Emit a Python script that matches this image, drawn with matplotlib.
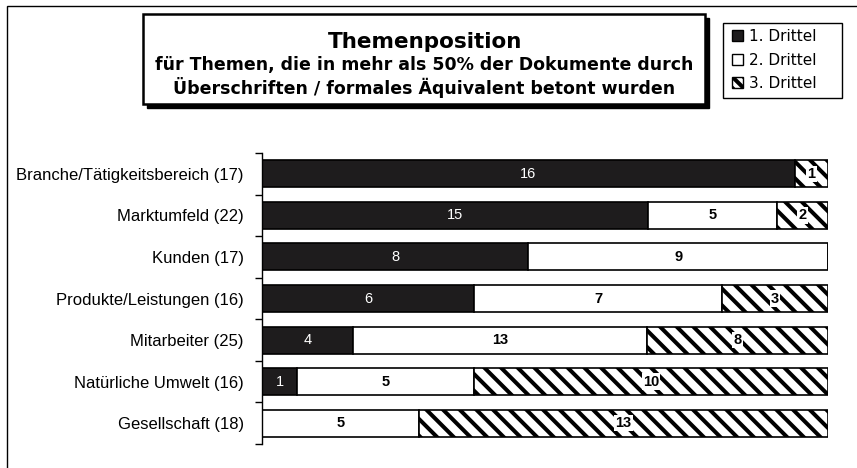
import matplotlib
matplotlib.use('Agg')
import matplotlib.pyplot as plt
from matplotlib.patches import Rectangle, Patch
import numpy as np

# Data
categories = ['Branche/Tätigkeitsbereich (17)', 'Marktumfeld (22)', 'Kunden (17)',
              'Produkte/Leistungen (16)', 'Mitarbeiter (25)',
              'Natürliche Umwelt (16)', 'Gesellschaft (18)']
drittel_1 = [16, 15, 8, 6, 4, 1, 0]
drittel_2 = [0, 5, 9, 7, 13, 5, 5]
drittel_3 = [1, 2, 0, 3, 8, 10, 13]
series_names = ['1. Drittel', '2. Drittel', '3. Drittel']
title = 'Themenposition'
subtitle = ['für Themen, die in mehr als 50% der Dokumente durch',
            'Überschriften / formales Äquivalent betont wurden']

W, H = 857, 468
plt.rcParams['font.family'] = ['Liberation Sans', 'DejaVu Sans']
plt.rcParams['hatch.linewidth'] = 2.9
plt.rcParams['hatch.color'] = 'black'
dark = '#1e1c1d'

fig = plt.figure(figsize=(W / 100, H / 100), dpi=100)


def fx(x):
    return x / W


def fy(y):
    return 1 - y / H


def box(x0, y0, x1, y1, **kw):
    # rectangle in pixel coords (y from top)
    fig.patches.append(Rectangle((fx(x0), fy(y1)), fx(x1) - fx(x0),
                                 fy(y0) - fy(y1), transform=fig.transFigure,
                                 **kw))


# Outer frame (only left and top visible)
box(7, 6, 880, 490, fill=False, edgecolor='black', lw=1.0)

# Plot area
ax = fig.add_axes([fx(262), fy(444), fx(828) - fx(262), fy(153) - fy(444)])
d1 = np.array(drittel_1, float)
d2 = np.array(drittel_2, float)
d3 = np.array(drittel_3, float)
tot = d1 + d2 + d3
p1, p2, p3 = d1 / tot, d2 / tot, d3 / tot
y = np.arange(len(categories))
bh = 0.65

ax.barh(y, p1, height=bh, color=dark, edgecolor='black', lw=1.2)
ax.barh(y, p2, left=p1, height=bh, color='white', edgecolor='black', lw=1.2)
ax.barh(y, p3, left=p1 + p2, height=bh, color='white', edgecolor='black',
        lw=1.2, hatch='\\\\')

for i in range(len(categories)):
    if d1[i] > 0:
        ax.text(p1[i] / 2, y[i], '%d' % d1[i], ha='center', va='center',
                color='white', fontsize=10.5)
    if d2[i] > 0:
        ax.text(p1[i] + p2[i] / 2, y[i], '%d' % d2[i], ha='center',
                va='center', color='black', fontsize=10.5, fontweight='bold')
    if d3[i] > 0:
        ax.text(p1[i] + p2[i] + p3[i] / 2, y[i], '%d' % d3[i], ha='center',
                va='center', color='black', fontsize=10.5, fontweight='bold',
                bbox=dict(boxstyle='square,pad=0.08', fc='white', ec='none'))

ax.set_xlim(0, 1)
ax.set_ylim(len(categories) - 0.5, -0.5)
ax.set_yticks(y)
ax.set_yticklabels(categories, fontsize=12)
ax.set_yticks(np.arange(len(categories) + 1) - 0.5, minor=True)
ax.tick_params(axis='y', which='major', length=0, pad=13)
ax.tick_params(axis='y', which='minor', length=5, width=1, direction='out')
ax.set_xticks([])
for s in ['top', 'right', 'bottom']:
    ax.spines[s].set_visible(False)
ax.spines['left'].set_linewidth(1)

# Title box with shadow
box(147, 18, 709, 108, facecolor='black', edgecolor='black', lw=1)
box(143, 14, 705, 104, facecolor='white', edgecolor='black', lw=1.8)
fig.text(fx(425), fy(42), title, ha='center', va='center', fontsize=15.5,
         fontweight='bold', family='DejaVu Sans')
fig.text(fx(424), fy(65), subtitle[0], ha='center', va='center',
         fontsize=12.5, fontweight='bold', family='DejaVu Sans')
fig.text(fx(424), fy(87), subtitle[1], ha='center', va='center',
         fontsize=12.5, fontweight='bold', family='DejaVu Sans')

# Legend
box(723, 23, 842, 98, facecolor='white', edgecolor='black', lw=1)
handles = [Patch(facecolor=dark, edgecolor='black', lw=1),
           Patch(facecolor='white', edgecolor='black', lw=1),
           Patch(facecolor='white', edgecolor='black', lw=1, hatch='\\\\\\')]
leg = fig.legend(handles, series_names, loc='upper left',
                 bbox_to_anchor=(fx(726), fy(23)), frameon=False,
                 prop={'family': 'DejaVu Sans', 'size': 11},
                 handlelength=0.7, handleheight=0.7, handletextpad=0.4,
                 labelspacing=0.55, borderpad=0.4, borderaxespad=0)

fig.savefig('out.png', dpi=100)
